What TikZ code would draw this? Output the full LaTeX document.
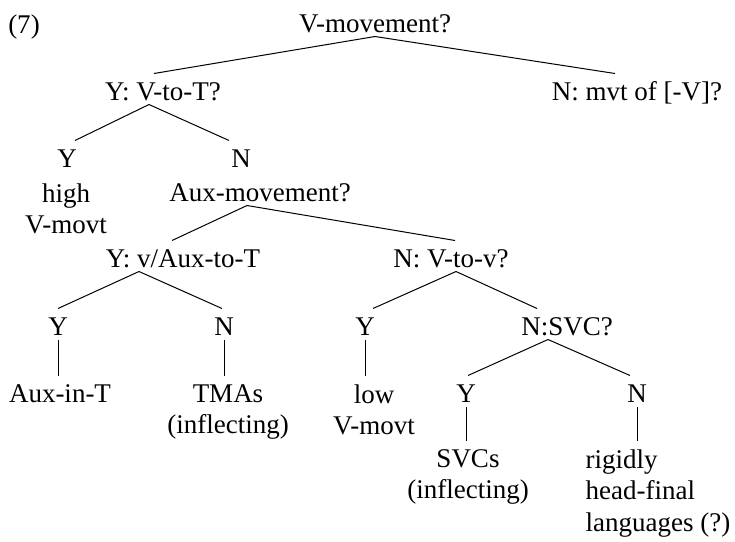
\documentclass[tikz,border=0pt]{standalone}
\usepackage{fontspec}
\setmainfont{Liberation Serif}

\begin{document}
\begin{tikzpicture}[x=1pt, y=-1pt, line width=1pt,
      font=\fontsize{27}{31.5}\selectfont,
      lbl/.style={inner xsep=0pt,inner ysep=0pt,text height=26pt,text depth=4pt,anchor=base},
      leaf/.style={align=center,inner xsep=0pt,inner ysep=8pt,anchor=north}]
      \useasboundingbox (0,0) rectangle (735,541);
      \node[lbl]  at (24,33)   (ex)     {(7)};
      \node[lbl]  at (375,32)  (vmov)   {V-movement?};
      \node[lbl]  at (163,100) (vtot)   {Y: V-to-T?};
      \node[lbl]  at (637,100) (nmvt)   {N: mvt of [-V]?};
      \node[lbl]  at (67,167)  (y1)     {Y};
      \node[lbl]  at (241,167) (n1)     {N};
      \node[leaf] at (66,175)  (high)   {high\\V-movt};
      \node[lbl]  at (260,201) (auxm)   {Aux-movement?};
      \node[lbl]  at (183,267) (yaux)   {Y: v/Aux-to-T};
      \node[lbl]  at (451,267) (ntov)   {N: V-to-v?};
      \node[lbl]  at (58,335)  (y2)     {Y};
      \node[lbl]  at (224,335) (n2)     {N};
      \node[lbl]  at (365,335) (y3)     {Y};
      \node[lbl]  at (567,335) (nsvc)   {N:SVC?};
      \node[leaf] at (60,376)  (auxint) {Aux-in-T};
      \node[leaf] at (228,376) (tmas)   {TMAs\\(inflecting)};
      \node[leaf] at (374,376) (low)    {low\\V-movt};
      \node[lbl]  at (466,402) (y4)     {Y};
      \node[lbl]  at (637,402) (n4)     {N};
      \node[leaf] at (468,441) (svcs)   {SVCs\\(inflecting)};
      \node[leaf,align=left] at (658,441) (rigid) {rigidly\\head-final\\languages (?)};
      \draw (vmov.south) -- ([xshift=-9pt]vtot.north);
      \draw (vmov.south) -- ([xshift=-22pt]nmvt.north);
      \draw ([xshift=-14pt]vtot.south) -- ([xshift=8pt]y1.north);
      \draw ([xshift=-14pt]vtot.south) -- ([xshift=-12pt]n1.north);
      \draw ([xshift=-13pt]auxm.south) -- ([xshift=-11pt]yaux.north);
      \draw ([xshift=-13pt]auxm.south) -- ([xshift=4pt]ntov.north);
      \draw ([xshift=-44pt]yaux.south) -- (y2.north);
      \draw ([xshift=-44pt]yaux.south) -- ([xshift=-2pt]n2.north);
      \draw ([xshift=5pt]ntov.south) -- ([xshift=8pt]y3.north);
      \draw ([xshift=5pt]ntov.south) -- ([xshift=-30pt]nsvc.north);
      \draw ([xshift=-19pt]nsvc.south) -- ([xshift=2pt]y4.north);
      \draw ([xshift=-19pt]nsvc.south) -- ([xshift=-7pt]n4.north);
      \draw (y2.south) -- (y2.south |- auxint.north);
      \draw (n2.south) -- (n2.south |- tmas.north);
      \draw (y3.south) -- (y3.south |- low.north);
      \draw (y4.south) -- (y4.south |- svcs.north);
      \draw (n4.south) -- (n4.south |- rigid.north);
    \end{tikzpicture}
\end{document}
